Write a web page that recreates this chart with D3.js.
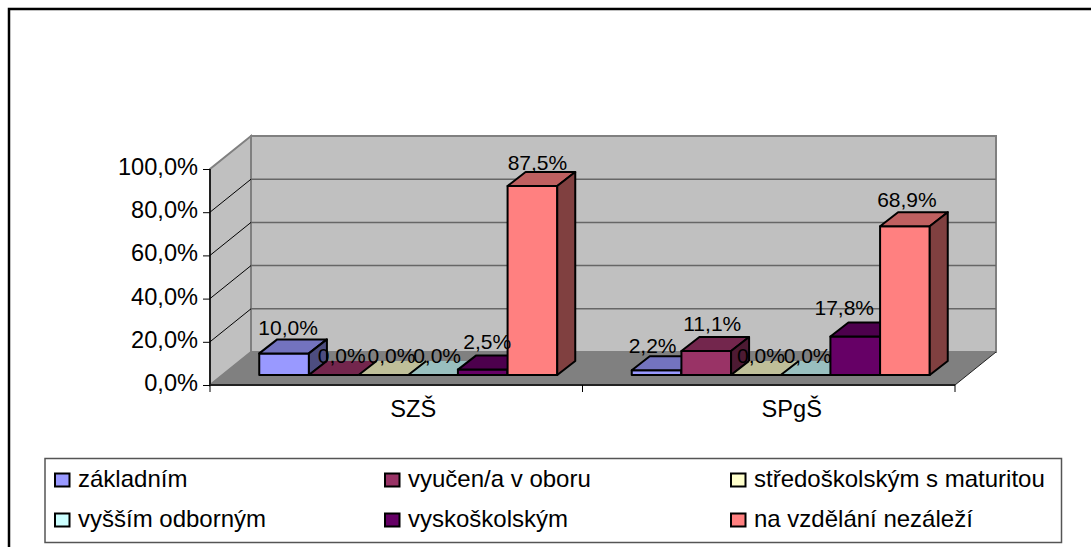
<!DOCTYPE html>
<html>
<head>
<meta charset="utf-8">
<script src="https://d3js.org/d3.v7.min.js"></script>
<style>
html, body { margin: 0; padding: 0; background: #fff; }
svg { display: block; }
text { font-family: "Liberation Sans", Arial, sans-serif; fill: #000; }
</style>
</head>
<body>
<svg id="chart" width="1091" height="547"></svg>
<script>
var categories = ["SZŠ", "SPgŠ"];
var seriesNames = ["základním", "vyučen/a v oboru", "středoškolským s maturitou", "vyšším odborným", "vyskoškolským", "na vzdělání nezáleží"];
var seriesColors = ["#9999ff", "#993366", "#ffffcc", "#ccffff", "#660066", "#ff8080"];
var szsValues = [10.0, 0.0, 0.0, 0.0, 2.5, 87.5];
var spgsValues = [2.2, 11.1, 0.0, 0.0, 17.8, 68.9];
var yTicks = [0, 20, 40, 60, 80, 100];

var svg = d3.select("#chart");
var fmt = function(v) { return d3.format(".1f")(v).replace(".", ",") + "%"; };

// outer frame, only top and left are visible
svg.append("path").attr("d", "M9,547V9H1091").attr("fill", "none").attr("stroke", "#000").attr("stroke-width", 2.5);
svg.append("line").attr("x1", 8).attr("x2", 1091).attr("y1", 7.5).attr("y2", 7.5).attr("stroke", "#bbb");

var x = d3.scaleBand().domain(categories).range([210, 955]);
var y = d3.scaleLinear().domain([0, 100]).range([385, 169]);
var barW = x.bandwidth() / 7.5;
var gap = barW * 0.75;
// 3d depth of the plot box and where the bars sit in it
var depthX = 41, depthY = -33;
var barShiftX = 12, barShiftY = -10;
var barDepthX = 18, barDepthY = -14;

function poly(pts) { return "M" + pts.map(function(p) { return p.join(","); }).join("L") + "Z"; }

var x0 = x.range()[0], x1 = x.range()[1];
var yBase = y(0), yTop = y(100);

// walls
svg.append("path").attr("d", poly([[x0 + depthX, yBase + depthY], [x1 + depthX, yBase + depthY], [x1 + depthX, yTop + depthY], [x0 + depthX, yTop + depthY]]))
    .attr("fill", "#c0c0c0").attr("stroke", "#808080").attr("stroke-width", 2);
svg.append("path").attr("d", poly([[x0, yBase], [x0 + depthX, yBase + depthY], [x0 + depthX, yTop + depthY], [x0, yTop]]))
    .attr("fill", "#c0c0c0").attr("stroke", "#808080").attr("stroke-width", 2);
svg.append("path").attr("d", poly([[x0, yBase], [x1, yBase], [x1 + depthX, yBase + depthY], [x0 + depthX, yBase + depthY]]))
    .attr("fill", "#808080");

// gridlines
yTicks.slice(1, -1).forEach(function(t) {
    svg.append("line").attr("x1", x0 + depthX).attr("x2", x1 + depthX).attr("y1", y(t) + depthY).attr("y2", y(t) + depthY)
        .attr("stroke", "#666").attr("stroke-width", 1.5);
    svg.append("line").attr("x1", x0).attr("x2", x0 + depthX).attr("y1", y(t)).attr("y2", y(t) + depthY)
        .attr("stroke", "#000").attr("stroke-width", 1);
});
svg.append("line").attr("x1", x1).attr("x2", x1 + depthX).attr("y1", yBase).attr("y2", yBase + depthY).attr("stroke", "#222");

// axes
var yAxis = d3.axisLeft(y).tickValues(yTicks).tickFormat(fmt).tickSize(7).tickPadding(5);
var gy = svg.append("g").attr("transform", "translate(" + x0 + ",0)").call(yAxis);
gy.select(".domain").attr("stroke", "#000").attr("stroke-width", 1.5).attr("d", "M0," + yTop + "V" + yBase);
gy.selectAll("text").attr("font-size", 23.6).attr("font-family", null).attr("dy", "0.23em");

var categoryNudge = [17, 23];
var xAxis = d3.axisBottom(x).tickSize(0).tickPadding(15);
var gx = svg.append("g").attr("transform", "translate(0," + yBase + ")").call(xAxis);
gx.select(".domain").attr("stroke", "#222").attr("stroke-width", 2).attr("d", "M" + x0 + ",0H" + x1);
gx.selectAll("text").attr("font-size", 23.6).attr("font-family", null).attr("dx", function(d, i) { return categoryNudge[i]; });
[x0, x0 + x.bandwidth(), x1].forEach(function(p) {
    svg.append("line").attr("x1", p).attr("x2", p).attr("y1", yBase).attr("y2", yBase + 7).attr("stroke", "#000");
});

// bars, left to right
var allValues = [szsValues, spgsValues];
var barBase = yBase + barShiftY;
function barLeft(c, i) { return x(categories[c]) + gap + barShiftX + i * barW; }
function barTop(v) { return barBase - (y(0) - y(v)); }
function shade(col, k) {
    var c = d3.rgb(col);
    return d3.rgb(c.r * k, c.g * k, c.b * k).formatHex();
}

allValues.forEach(function(vals, c) {
    vals.forEach(function(v, i) {
        var l = barLeft(c, i), r = l + barW, t = barTop(v);
        var g = svg.append("g").attr("stroke", "#000").attr("stroke-width", 2).attr("stroke-linejoin", "round");
        if (v === 0) {
            // empty bar: just the lid, edged on the front and left
            g.append("path").attr("d", poly([[l, t], [r, t], [r + barDepthX, t + barDepthY], [l + barDepthX, t + barDepthY]]))
                .attr("fill", shade(seriesColors[i], 0.75)).attr("stroke", "none");
            g.append("path").attr("d", "M" + (l + barDepthX) + "," + (t + barDepthY) + "L" + l + "," + t + "H" + r).attr("fill", "none");
            return;
        }
        g.append("path").attr("d", poly([[l, t], [r, t], [r, barBase], [l, barBase]])).attr("fill", seriesColors[i]);
        g.append("path").attr("d", poly([[l, t], [r, t], [r + barDepthX, t + barDepthY], [l + barDepthX, t + barDepthY]])).attr("fill", shade(seriesColors[i], 0.75));
        g.append("path").attr("d", poly([[r, t], [r + barDepthX, t + barDepthY], [r + barDepthX, barBase + barDepthY], [r, barBase]])).attr("fill", shade(seriesColors[i], 0.5));
    });
});

// data labels go on top of every bar; nudges follow where the original chart put each one
var labelNudgeX = [[4, 8, 8, 4, 4.5, 5], [-4, 6, 5, 2, -11, 2]];
var labelNudgeY = [[-4, 2, 2, 2, -7, -2], [-3, -6, 2, 2, -8, -5]];
allValues.forEach(function(vals, c) {
    vals.forEach(function(v, i) {
        svg.append("text").attr("text-anchor", "middle").attr("font-size", 21)
            .attr("x", barLeft(c, i) + barW / 2 + labelNudgeX[c][i])
            .attr("y", barTop(v) + barDepthY + labelNudgeY[c][i])
            .text(fmt(v));
    });
});

// legend
svg.append("rect").attr("x", 45).attr("y", 458.5).attr("width", 1016.5).attr("height", 84)
    .attr("fill", "#fff").attr("stroke", "#555").attr("stroke-width", 1.5);
var legendCol = d3.scaleOrdinal().domain([0, 1, 2]).range([55, 385, 731]);
var legendRow = d3.scaleOrdinal().domain([0, 1]).range([473.5, 513.5]);
seriesNames.forEach(function(name, i) {
    var col = i % 3, row = Math.floor(i / 3);
    svg.append("rect").attr("x", legendCol(col)).attr("y", legendRow(row)).attr("width", 14.5).attr("height", 13)
        .attr("fill", seriesColors[i]).attr("stroke", "#000").attr("stroke-width", 2);
    svg.append("text").attr("x", legendCol(col) + 23).attr("y", legendRow(row) + 13).attr("font-size", 24).text(name);
});
</script>
</body>
</html>
